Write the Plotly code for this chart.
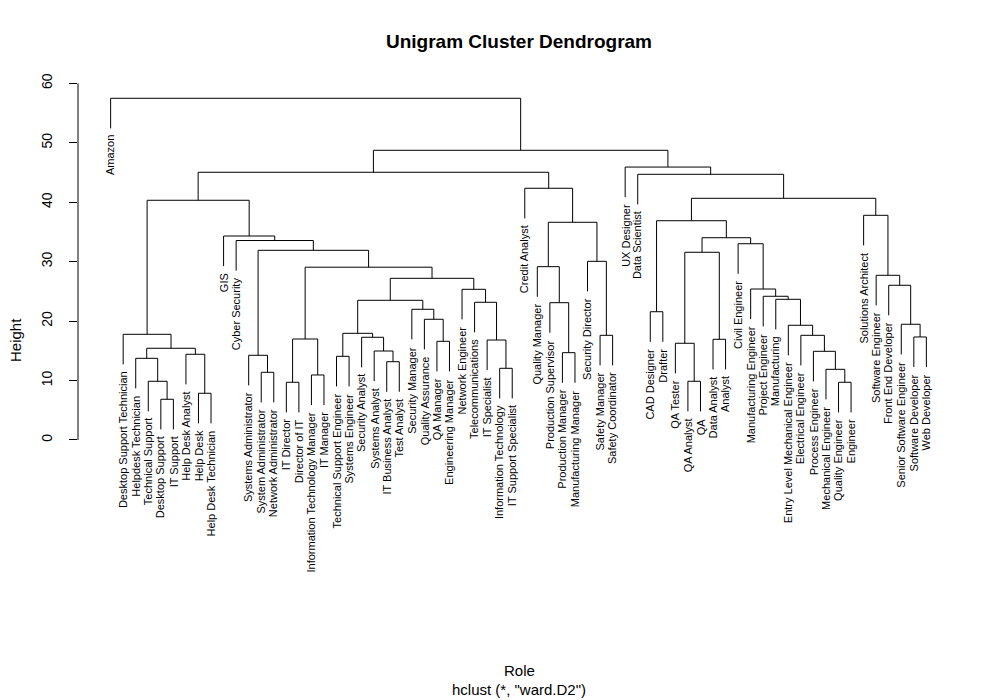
import plotly.graph_objects as go

# ---------------- data ----------------
labels = [
    "Amazon", "Desktop Support Technician", "Helpdesk Technician", "Technical Support",
    "Desktop Support", "IT Support", "Help Desk Analyst", "Help Desk", "Help Desk Technician",
    "GIS", "Cyber Security", "Systems Administrator", "System Administrator",
    "Network Administrator", "IT Director", "Director of IT", "Information Technology Manager",
    "IT Manager", "Technical Support Engineer", "Systems Engineer", "Security Analyst",
    "Systems Analyst", "IT Business Analyst", "Test Analyst", "Security Manager",
    "Quality Assurance", "QA Manager", "Engineering Manager", "Network Engineer",
    "Telecommunications", "IT Specialist", "Information Technology", "IT Support Specialist",
    "Credit Analyst", "Quality Manager", "Production Supervisor", "Production Manager",
    "Manufacturing Manager", "Security Director", "Safety Manager", "Safety Coordinator",
    "UX Designer", "Data Scientist", "CAD Designer", "Drafter", "QA Tester", "QA Analyst",
    "QA", "Data Analyst", "Analyst", "Civil Engineer", "Manufacturing Engineer",
    "Project Engineer", "Manufacturing", "Entry Level Mechanical Engineer",
    "Electrical Engineer", "Process Engineer", "Mechanical Engineer", "Quality Engineer",
    "Engineer", "Solutions Architect", "Software Engineer", "Front End Developer",
    "Senior Software Engineer", "Software Developer", "Web Developer",
]

# hclust-style merge table: negative = leaf (1-based, in display order), positive = earlier merge
merge_left = [-5, -8, -4, -3, -7, 4, -2, -13, -12, -15, -17, 10, -19, -23, -22, -21, 13,
              -27, -26, -25, 17, -32, -31, -30, -29, 21, 12, 9, -11, -10, 7,
              -37, -36, -35, -40, -39, 34, -34, 31,
              -44, -47, -46, -49, 42, -59, -58, -57, -56, -55, -54, -53, -52, -51, 44, 40,
              -65, -64, -63, -62, -61, 55, -43, -42, 39, -1]
merge_right = [-6, -9, 1, 3, 2, 5, 6, -14, 8, -16, -18, 11, -20, -24, 14, 15, 16,
               -28, 18, 19, 20, -33, 22, 23, 24, 25, 26, 27, 28, 29, 30,
               -38, 32, 33, -41, 35, 36, 37, 38,
               -45, -48, 41, -50, 43, -60, 45, 46, 47, 48, 49, 50, 51, 52, 53, 54,
               -66, 56, 57, 58, 59, 60, 61, 62, 63, 64]
heights = [6.85, 7.86, 9.88, 13.74, 14.42, 15.43, 17.78, 11.39, 14.25, 9.71, 10.94, 16.99,
           14.08, 13.17, 14.97, 17.28, 17.95, 16.6, 20.31, 21.99, 23.5, 12.06, 16.82, 23.17,
           25.35, 27.2, 29.07, 31.91, 33.56, 34.32, 40.33,
           14.69, 23.1, 29.16, 17.61, 30.06, 36.63, 42.35, 45.04,
           21.58, 9.88, 16.27, 16.94, 31.58, 9.71, 11.89, 14.92, 17.61, 19.3, 23.67, 24.18,
           25.4, 33.02, 34.03, 36.89,
           17.33, 19.47, 26.03, 27.71, 37.8, 40.66, 44.7, 45.92, 48.74, 57.49]

y_ticks = [0, 10, 20, 30, 40, 50, 60]

title_text = "Unigram Cluster Dendrogram"
x_label = "Role"
sub_label = 'hclust (*, "ward.D2")'
y_label = "Height"

# ---------------- geometry from the merge table ----------------
hang = 0.1 * (max(heights) - min(heights))
merge_x = []


def cx(c):
    return float(-c) if c < 0 else merge_x[c - 1]


for a, b in zip(merge_left, merge_right):
    merge_x.append((cx(a) + cx(b)) / 2.0)

xs, ys = [], []
leaf_x, leaf_y = [], []
for k, (a, b) in enumerate(zip(merge_left, merge_right)):
    h = heights[k]
    pts = []
    for c in (a, b):
        bottom = h - hang if c < 0 else heights[c - 1]
        if c < 0:
            leaf_x.append(-c)
            leaf_y.append(bottom)
        pts.append((cx(c), bottom))
    xs += [pts[0][0], pts[0][0], pts[1][0], pts[1][0], None]
    ys += [pts[0][1], h, h, pts[1][1], None]

FONT = "Liberation Sans, Arial, Helvetica, sans-serif"

fig = go.Figure()
fig.add_trace(go.Scatter(x=xs, y=ys, mode="lines",
                         line=dict(color="black", width=1), hoverinfo="skip"))

annotations = []
for lx, ly in zip(leaf_x, leaf_y):
    annotations.append(dict(x=lx, y=ly, xref="x", yref="y", text=labels[lx - 1],
                            textangle=-90, showarrow=False, xanchor="center",
                            yanchor="top", yshift=-7, borderpad=0, borderwidth=0,
                            font=dict(size=11, color="black", family=FONT)))

annotations += [
    dict(x=(519 - 78) / 881, y=-(670 - 600) / 540, xref="paper", yref="paper",
         text=x_label, showarrow=False, xanchor="center", yanchor="middle",
         font=dict(size=15, color="black", family=FONT)),
    dict(x=(519 - 78) / 881, y=-(689 - 600) / 540, xref="paper", yref="paper",
         text=sub_label, showarrow=False, xanchor="center", yanchor="middle",
         font=dict(size=15, color="black", family=FONT)),
    dict(x=(15 - 78) / 881, y=(600 - 340) / 540, xref="paper", yref="paper",
         text=y_label, showarrow=False, xanchor="center", yanchor="middle", textangle=-90,
         font=dict(size=15, color="black", family=FONT)),
]

fig.update_layout(
    width=1000, height=700,
    margin=dict(l=78, r=41, t=60, b=100),
    paper_bgcolor="white", plot_bgcolor="white",
    showlegend=False,
    font=dict(family=FONT, color="black"),
    title=dict(text="<b>" + title_text + "</b>", x=0.519, xref="container", xanchor="center",
               y=1 - 41 / 700, yref="container", yanchor="middle",
               font=dict(size=19, color="black", family=FONT)),
    annotations=annotations,
)

fig.update_xaxes(range=[-1.6, 68.6], visible=False, fixedrange=True)
fig.update_yaxes(range=[-26.92, 63.93], tickvals=y_ticks, ticktext=[str(t) for t in y_ticks],
                 ticks="outside", ticklen=8, tickwidth=1, tickcolor="black",
                 tickangle=-90, ticklabelstandoff=11,
                 tickfont=dict(size=14, color="black", family=FONT),
                 showgrid=False, zeroline=False, showline=False, fixedrange=True)

fig.add_shape(type="line", xref="paper", yref="y", x0=0, x1=0,
              y0=min(y_ticks), y1=max(y_ticks), line=dict(color="black", width=1))

fig.write_html("out.html")
